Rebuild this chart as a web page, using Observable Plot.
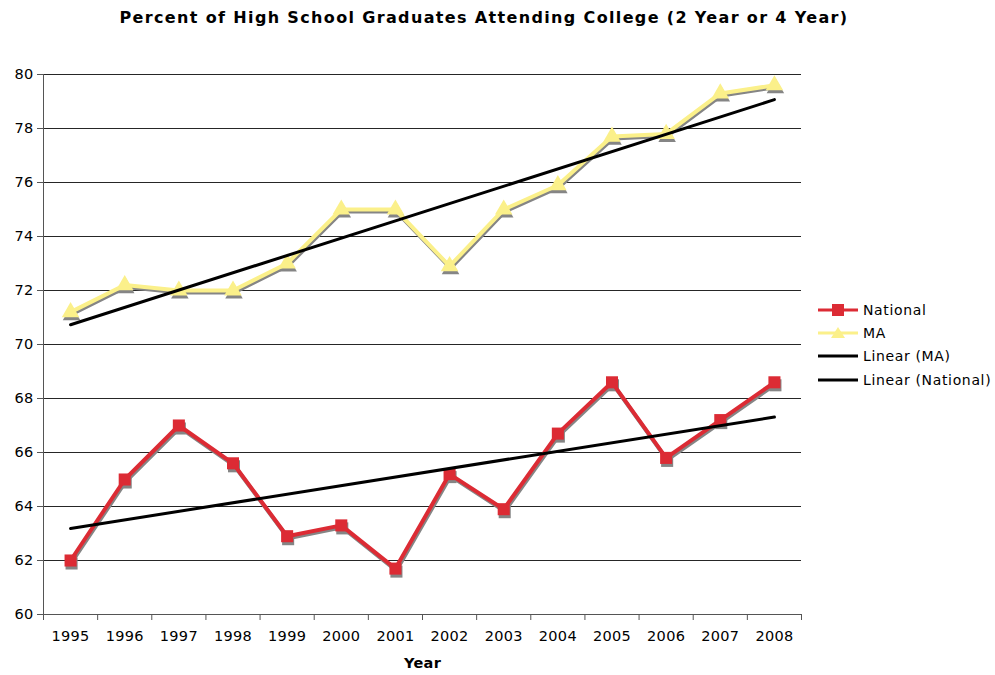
<!DOCTYPE html>
<html><head><meta charset="utf-8">
<script src="https://cdn.jsdelivr.net/npm/d3@7"></script>
<script src="https://cdn.jsdelivr.net/npm/@observablehq/plot@0.6"></script>
<style>
body{margin:0;background:#fff;font-family:"DejaVu Sans",Verdana,sans-serif;color:#000}
#wrap{position:relative;width:995px;height:675px}
#title{position:absolute;left:0;top:8px;width:968px;text-align:center;font-weight:bold;font-size:16px;letter-spacing:1.35px}
#chart{position:absolute;left:0;top:0}
#legend{position:absolute;left:816px;top:298px;font-size:14px;letter-spacing:0.65px}
.item{display:flex;align-items:center;height:23.3px}
.item svg{margin-right:3px}
</style></head>
<body>
<div id="wrap">
<div id="chart"></div>
<div id="title">Percent of High School Graduates Attending College (2 Year or 4 Year)</div>
<div id="legend"></div>
</div>
<script>
const years = [1995,1996,1997,1998,1999,2000,2001,2002,2003,2004,2005,2006,2007,2008];
const national = [62.0,65.0,67.0,65.6,62.9,63.3,61.7,65.2,63.9,66.7,68.6,65.8,67.2,68.6];
const ma = [71.2,72.2,72.0,72.0,73.0,75.0,75.0,72.9,75.0,75.9,77.7,77.8,79.3,79.6];
const yTicks = [60,62,64,66,68,70,72,74,76,78,80];
const seriesNames = ["National","MA","Linear (MA)","Linear (National)"];
const colors = {national:"#dc2b34", ma:"#fbf08a", trend:"#000", shadow:"#858585"};

const table = years.map((y,i)=>({year:y, national:national[i], ma:ma[i]}));
const bounds = years.map(y=>y-0.5).concat([years[years.length-1]+0.5]);

const chart = Plot.plot({
  width:995, height:675,
  marginLeft:43, marginRight:194, marginTop:74, marginBottom:61,
  style:{fontFamily:"'DejaVu Sans',Verdana,sans-serif", fontSize:"14.5px", color:"#000", background:"#fff", letterSpacing:"0.3px"},
  x:{domain:[1994.5,2008.5]},
  y:{domain:[60,80]},
  marks:[
    Plot.gridY(yTicks,{stroke:"#000", strokeOpacity:0.85}),
    Plot.axisY(yTicks,{tickSize:6, tickPadding:4, fontSize:14.5, tickFormat:d=>d, label:null, stroke:"#555"}),
    Plot.axisX(years,{tickSize:0, tickPadding:16, fontSize:14.5, tickFormat:d=>String(d), label:null}),
    Plot.axisX(bounds,{tickSize:6, tickFormat:()=>"", label:null, stroke:"#555"}),
    Plot.ruleX([1994.5],{stroke:"#555"}),
    Plot.ruleY([60],{stroke:"#555"}),
    Plot.text(["Year"],{frameAnchor:"bottom", x:2001.5, dy:53, fontWeight:"bold", fontSize:14.5}),
    // shadows
    Plot.line(table,{x:"year", y:"ma", stroke:colors.shadow, strokeWidth:4, dy:2, dx:1}),
    Plot.dot(table,{x:"year", y:"ma", symbol:"triangle", r:6.5, fill:colors.shadow, dy:3, dx:1}),
    Plot.line(table,{x:"year", y:"national", stroke:colors.shadow, strokeWidth:4, dy:2, dx:1}),
    Plot.dot(table,{x:"year", y:"national", symbol:"square", r:6.8, fill:colors.shadow, dy:3, dx:1}),
    // series
    Plot.line(table,{x:"year", y:"ma", stroke:colors.ma, strokeWidth:4}),
    Plot.dot(table,{x:"year", y:"ma", symbol:"triangle", r:6.5, fill:colors.ma}),
    Plot.line(table,{x:"year", y:"national", stroke:colors.national, strokeWidth:4}),
    Plot.dot(table,{x:"year", y:"national", symbol:"square", r:6.8, fill:colors.national}),
    // trends
    Plot.linearRegressionY(table,{x:"year", y:"ma", ci:0, stroke:colors.trend, strokeWidth:3}),
    Plot.linearRegressionY(table,{x:"year", y:"national", ci:0, stroke:colors.trend, strokeWidth:3})
  ]
});
document.getElementById("chart").appendChild(chart);

const legend = document.getElementById("legend");
const swatch = (name)=>{
  const ns="http://www.w3.org/2000/svg";
  const s=document.createElementNS(ns,"svg");
  s.setAttribute("width","44"); s.setAttribute("height","16");
  let stroke = name==="National"?colors.national:name==="MA"?colors.ma:colors.trend;
  s.innerHTML = `<line x1="2" x2="42" y1="8" y2="8" stroke="${stroke}" stroke-width="3"/>`;
  if(name==="National") s.innerHTML += `<rect x="16" y="2" width="12" height="12" fill="${colors.national}"/>`;
  if(name==="MA") s.innerHTML += `<path d="M22,2 L29,13 L15,13 Z" fill="${colors.ma}"/>`;
  return s;
};
seriesNames.forEach(n=>{
  const d=document.createElement("div"); d.className="item";
  d.appendChild(swatch(n));
  const t=document.createElement("span"); t.textContent=n; d.appendChild(t);
  legend.appendChild(d);
});
</script>
</body></html>
